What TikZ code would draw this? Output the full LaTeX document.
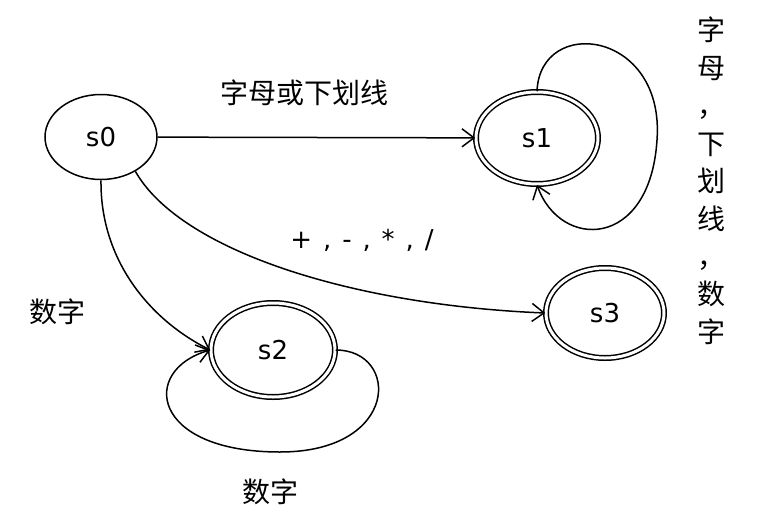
\documentclass[tikz,border=0pt]{standalone}
\usepackage{fontspec}
\setmainfont{DejaVu Sans}
\newfontfamily\cjk{Noto Sans CJK SC}
\usetikzlibrary{shapes.geometric, arrows.meta}

\begin{document}
\begin{tikzpicture}[x=1pt, y=-1pt, line width=1.5pt,
  state/.style={draw, ellipse, inner sep=0pt, font=\fontsize{26}{30}\selectfont},
  accept/.style={state, double, double distance=3pt},
  zh/.style={font=\cjk\fontsize{28}{34}\selectfont},
  >={Straight Barb[length=12pt, width=18pt]}]
\useasboundingbox (0,0) rectangle (780,528);

% 状态
\node[state, minimum width=112pt, minimum height=85pt] (s0) at (101,137) {s0};
\node[accept, minimum width=122pt, minimum height=92pt] (s1) at (537,138) {s1};
\node[accept, minimum width=124pt, minimum height=94pt] (s2) at (273,350) {s2};
\node[accept, minimum width=118pt, minimum height=90pt] (s3) at (605,313) {s3};

% 转移
\draw[->] (s0) -- (s1);
\draw[->] (s1.north) .. controls (540,15) and (665,30) .. (657,140)
  .. controls (650,250) and (560,250) .. (s1.south);
\draw[->] (s0.-45) .. controls (180,250) and (350,305) .. (s3.west);
\draw[->] (s0.south) .. controls (100,260) and (150,320) .. (s2.west);
\draw[->] (s2.east) .. controls (400,350) and (400,452) .. (280,452)
  .. controls (150,452) and (140,370) .. (s2.west);

% 标签
\node[zh] (l01) at (304,93) {字母或下划线};
\node[zh, align=center, font=\cjk\fontsize{28}{37.7}\selectfont] (l11) at (711,181)
  {字\\母\\，\\下\\划\\线\\，\\数\\字};
\node[font=\fontsize{26}{30}\selectfont] (l03) at (362,240)
  {+\hspace{0.42em},\hspace{0.42em}-\hspace{0.42em},\hspace{0.42em}*\hspace{0.42em},\hspace{0.42em}/};
\node[zh] (l02) at (58,312) {数字};
\node[zh] (l22) at (270,492) {数字};
\end{tikzpicture}
\end{document}
